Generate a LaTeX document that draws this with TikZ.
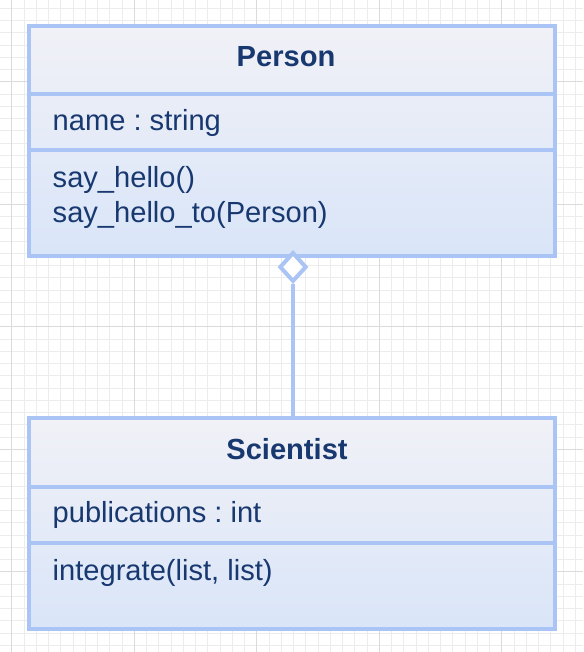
\documentclass[tikz,border=0pt]{standalone}
\usepackage{fontspec}
\setmainfont{Liberation Sans}
\frenchspacing
\usetikzlibrary{shapes.geometric}
\definecolor{gridminor}{RGB}{236,236,236}
\definecolor{gridmajor}{RGB}{218,218,218}
\definecolor{umlborder}{RGB}{169,196,245}
\definecolor{umltop}{RGB}{241,241,247}
\definecolor{umlbottom}{RGB}{217,229,248}
\definecolor{umltext}{RGB}{24,56,112}
\tikzset{
  classbox/.style={draw=umlborder, line width=4pt, top color=umltop, bottom color=umlbottom, inner sep=0pt, rectangle},
  divider/.style={draw=umlborder, line width=4pt},
  umllabel/.style={text=umltext, inner sep=0pt, font=\fontsize{29.1}{35.3}\selectfont},
  umltitle/.style={umllabel, font=\fontsize{29.1}{35.3}\selectfont\bfseries},
  aggr/.style={diamond, draw=umlborder, line width=4pt, fill=white, inner sep=0pt, minimum width=27pt, minimum height=29.5pt},
  connector/.style={draw=umlborder, line width=4pt}
}
\begin{document}
\begin{tikzpicture}[x=1pt,y=-1pt]
\useasboundingbox (0,0) rectangle (583,652);
\fill[white] (0,0) rectangle (583,652);
% grid
\foreach \i in {0,...,48} {
  \pgfmathsetmacro{\gx}{-0.55+12.25*\i}
  \draw[gridminor, line width=0.8pt] (\gx,0) -- (\gx,652);
}
\foreach \i in {0,...,53} {
  \pgfmathsetmacro{\gy}{8.2+12.25*\i}
  \draw[gridminor, line width=0.8pt] (0,\gy) -- (583,\gy);
}
\foreach \i in {0,...,4} {
  \pgfmathsetmacro{\gx}{11.7+122.5*\i}
  \draw[gridmajor, line width=0.8pt] (\gx,0) -- (\gx,652);
}
\foreach \i in {0,...,4} {
  \pgfmathsetmacro{\gy}{81.7+122.5*\i}
  \draw[gridmajor, line width=0.8pt] (0,\gy) -- (583,\gy);
}
% Person class
\node[classbox, minimum width=526pt, minimum height=230pt] (person) at (292,141) {};
\draw[divider] (person.west |- 0,94) -- (person.east |- 0,94);
\draw[divider] (person.west |- 0,150) -- (person.east |- 0,150);
\node[umltitle, anchor=base] (ptitle) at (286,66.7) {Person};
\node[umllabel, anchor=base west] (pattr) at (52.5,130.7) {name : string};
\node[umllabel, anchor=base west] (pm1) at (52.5,187.3) {say\_hello()};
\node[umllabel, anchor=base west] (pm2) at (52.5,222.7) {say\_hello\_to(Person)};
% Scientist class
\node[classbox, minimum width=526pt, minimum height=210.5pt] (sci) at (292,523.25) {};
\draw[divider] (sci.west |- 0,486.5) -- (sci.east |- 0,486.5);
\draw[divider] (sci.west |- 0,542.5) -- (sci.east |- 0,542.5);
\node[umltitle, anchor=base] (stitle) at (287,459.3) {Scientist};
\node[umllabel, anchor=base west] (sattr) at (52.5,522.7) {publications : int};
\node[umllabel, anchor=base west] (sm1) at (52.5,580) {integrate(list, list)};
% aggregation
\node[aggr] (dia) at (293,267) {};
\draw[connector] (dia.south) -- (dia.south |- sci.north);
\end{tikzpicture}
\end{document}
